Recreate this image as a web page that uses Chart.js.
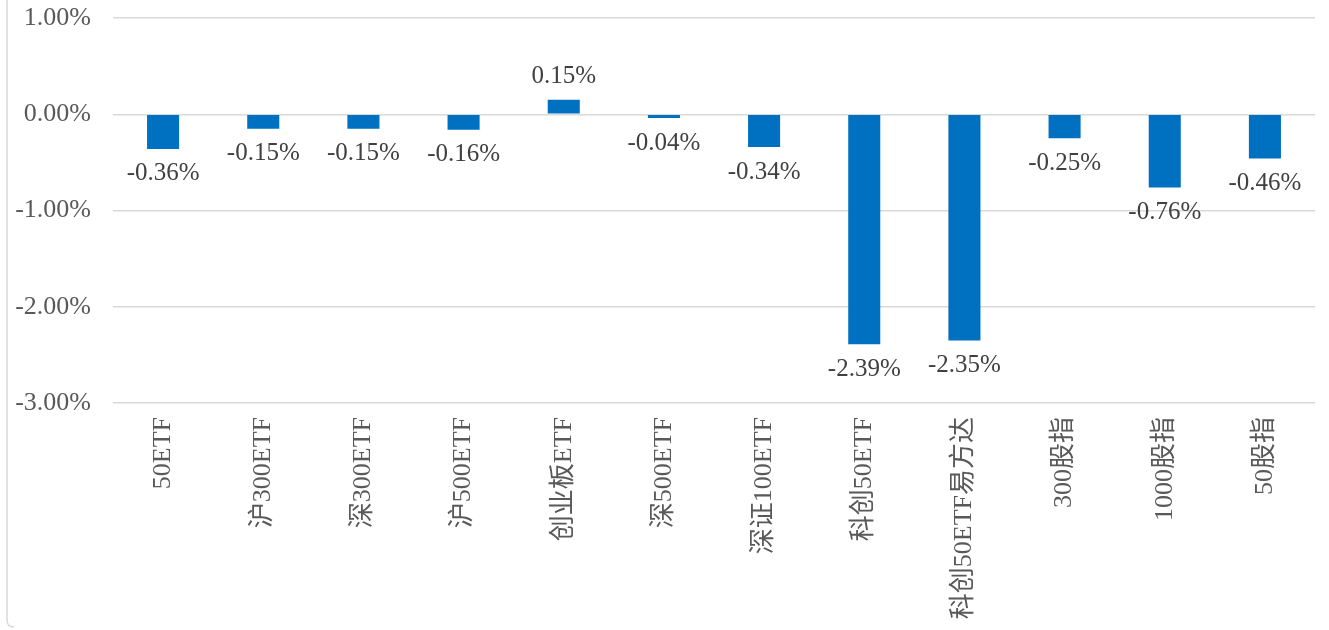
<!DOCTYPE html>
<html>
<head>
<meta charset="utf-8">
<script src="https://cdn.jsdelivr.net/npm/chart.js@4/dist/chart.umd.min.js"></script>
<style>
  html, body { margin: 0; padding: 0; background: #fff; }
  #wrap { position: relative; width: 1329px; height: 630px; }
</style>
</head>
<body>
<div id="wrap"><canvas id="myChart"></canvas></div>
<script>
// categories and values (percent)
const categories = ['50ETF', '沪300ETF', '深300ETF', '沪500ETF', '创业板ETF', '深500ETF',
    '深证100ETF', '科创50ETF', '科创50ETF易方达', '300股指', '1000股指', '50股指'];
const changes = [-0.36, -0.15, -0.15, -0.16, 0.15, -0.04, -0.34, -2.39, -2.35, -0.25, -0.76, -0.46];
const yMin = -3;
const yMax = 1;
const yStep = 1;

const serif = '"Liberation Serif", "Times New Roman", "Noto Sans CJK SC", serif';

// value labels above / below each bar
const barLabels = {
    id: 'barLabels',
    afterDatasetsDraw(chart) {
        const ctx = chart.ctx;
        const meta = chart.getDatasetMeta(0);
        ctx.save();
        ctx.font = '25px ' + serif;
        ctx.fillStyle = '#404040';
        ctx.textAlign = 'center';
        ctx.textBaseline = 'middle';
        meta.data.forEach((bar, i) => {
            const v = changes[i];
            const y = v < 0 ? bar.y + 25 : bar.y - 23;
            ctx.fillText(v.toFixed(2) + '%', bar.x, y);
        });
        ctx.restore();
    }
};

// thin frame edge on the left
const frameEdge = {
    id: 'frameEdge',
    beforeDraw(chart) {
        const ctx = chart.ctx;
        ctx.save();
        ctx.strokeStyle = '#d9d9d9';
        ctx.lineWidth = 1.5;
        ctx.beginPath();
        ctx.moveTo(7, 0);
        ctx.lineTo(7, 620);
        ctx.quadraticCurveTo(7, 627, 14, 627);
        ctx.stroke();
        ctx.restore();
    }
};

const ctx = document.getElementById('myChart').getContext('2d');

const myBarChart = new Chart(ctx, {
    type: 'bar',
    data: {
        labels: categories,
        datasets: [{
            data: changes,
            backgroundColor: '#0070C0',
            borderWidth: 0,
            barPercentage: 0.32,
            categoryPercentage: 1
        }]
    },
    options: {
        responsive: true,
        maintainAspectRatio: false,
        animation: false,
        layout: { padding: { top: 18, right: 14, left: 0, bottom: 0 } },
        plugins: {
            legend: { display: false },
            tooltip: { enabled: false }
        },
        scales: {
            x: {
                grid: { display: false, drawTicks: false },
                border: { display: false },
                ticks: {
                    autoSkip: false,
                    maxRotation: 90,
                    minRotation: 90,
                    padding: 14,
                    color: '#595959',
                    font: { family: serif, size: 26 }
                },
                afterFit(scale) {
                    scale.height = 227;
                    scale.paddingLeft = 0;
                    scale.paddingRight = 0;
                }
            },
            y: {
                min: yMin,
                max: yMax,
                grid: { color: '#d9d9d9', lineWidth: 1.5, drawTicks: false },
                border: { display: false },
                ticks: {
                    stepSize: yStep,
                    padding: 22,
                    color: '#595959',
                    font: { family: serif, size: 26 },
                    callback: (v) => v.toFixed(2) + '%'
                },
                afterFit(scale) {
                    // tick padding would otherwise push the plot top down
                    scale.width = 113;
                    scale.paddingTop = 0;
                    scale.paddingBottom = 0;
                }
            }
        }
    },
    plugins: [frameEdge, barLabels]
});
</script>
</body>
</html>
